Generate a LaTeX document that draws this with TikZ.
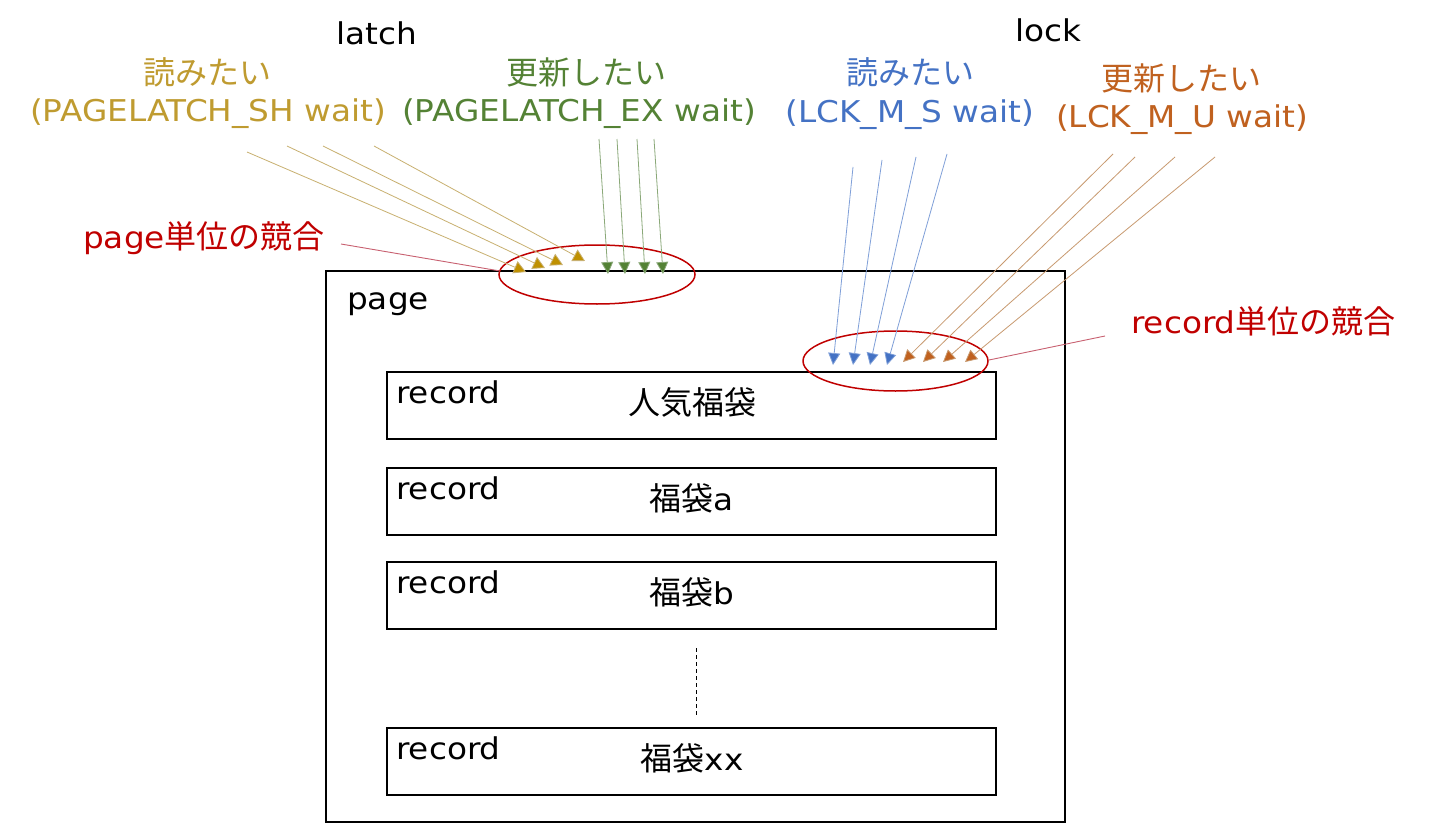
\documentclass[tikz,border=0pt]{standalone}
\usepackage{fontspec}
\setmainfont{Noto Sans CJK JP}
\newfontfamily\jp{Noto Sans CJK JP}
\newfontfamily\lat{DejaVu Sans}[FakeStretch=1.09]
\usetikzlibrary{arrows.meta,shapes.geometric}
\definecolor{cgold}{HTML}{BF9B30}
\definecolor{cgoldline}{HTML}{C8B070}
\definecolor{cgoldtip}{HTML}{BF9000}
\definecolor{cgreen}{HTML}{548235}
\definecolor{cgreenline}{HTML}{8AA878}
\definecolor{cblue}{HTML}{4472C4}
\definecolor{cblueline}{HTML}{7F9FD8}
\definecolor{corange}{HTML}{C0611F}
\definecolor{corangeline}{HTML}{C89A70}
\definecolor{cred}{HTML}{C00000}
\definecolor{credline}{HTML}{C86070}
\newcommand{\cj}{\jp\fontsize{32}{36}\selectfont}
\newcommand{\la}{\lat\fontsize{30}{36}\selectfont}
\begin{document}
\begin{tikzpicture}[x=1pt,y=-1pt,
  lbl/.style={inner sep=0pt, anchor=base},
  lblw/.style={inner sep=0pt, anchor=base west},
  rec/.style={draw=black, line width=1.8pt, minimum width=609pt, minimum height=67pt, inner sep=0pt},
  ring/.style={draw=cred, line width=1.5pt, ellipse, inner sep=0pt},
  arr/.style={line width=0.8pt},
  leader/.style={draw=credline, line width=0.9pt}]
\useasboundingbox (0,0) rectangle (1440,824);
\fill[white] (0,0) rectangle (1440,824);
% headings
\node[lbl] (latch) at (377,45) {\la latch};
\node[lbl] (lock) at (1048,42) {\la lock};
\node[lbl, text=cgold] (gr) at (207,85) {\cj 読みたい};
\node[lbl, text=cgold] (grp) at (208,122) {\la (PAGELATCH\_SH wait)};
\node[lbl, text=cgreen] (gu) at (586,85) {\cj 更新したい};
\node[lbl, text=cgreen] (gup) at (579,122) {\la (PAGELATCH\_EX wait)};
\node[lbl, text=cblue] (br) at (910,85) {\cj 読みたい};
\node[lbl, text=cblue] (brp) at (910,123) {\la (LCK\_M\_S wait)};
\node[lbl, text=corange] (ou) at (1181,91) {\cj 更新したい};
\node[lbl, text=corange] (oup) at (1182,128) {\la (LCK\_M\_U wait)};
\node[lblw, text=cred] (pc) at (83,248) {\la page\cj 単位の競合};
\node[lblw, text=cred] (rc) at (1131,333) {\la record\cj 単位の競合};
% page box
\node[draw=black, line width=1.8pt, minimum width=739pt, minimum height=551pt, inner sep=0pt] (page) at (695.5,546.5) {};
\node[lblw] (pagel) at (347,309) {\la page};
% records
\node[rec] (r1) at (691.5,405.5) {};
\node[rec] (r2) at (691.5,501.5) {};
\node[rec] (r3) at (691.5,595.5) {};
\node[rec] (r4) at (691.5,761.5) {};
\node[lblw] (r1l) at (396,403) {\la record};
\node[lblw] (r2l) at (396,499) {\la record};
\node[lblw] (r3l) at (396,593) {\la record};
\node[lblw] (r4l) at (396,759) {\la record};
\node[lbl] (r1t) at (692,414) {\cj 人気福袋};
\node[lbl] (r2t) at (692,510) {\cj 福袋\la a};
\node[lbl] (r3t) at (692,604) {\cj 福袋\la b};
\node[lbl] (r4t) at (692,770) {\cj 福袋\la xx};
\coordinate (dtop) at (696,648);
\coordinate (dbot) at (696,716);
\draw[line width=0.8pt, dash pattern=on 4pt off 3pt] (dtop) -- (dbot);
% ellipses
\node[ring, minimum width=196pt, minimum height=59pt] (e1) at (597,274.5) {};
\node[ring, minimum width=185pt, minimum height=60pt] (e2) at (895.5,361) {};
\coordinate (pcl) at (341,244);
\coordinate (pce) at (500,271);
\coordinate (rcl) at (1105,336);
\coordinate (rce) at (989,360);
\draw[leader] (pcl) -- (pce);
\draw[leader] (rcl) -- (rce);
% gold arrows
\foreach \i/\sx/\sy/\ex/\ey in {1/247/152/526/272, 2/287/146/545/268, 3/323/146/563/265, 4/374/146/585/261}{
  \coordinate (gs\i) at (\sx,\sy);
  \coordinate (ge\i) at (\ex,\ey);
  \draw[arr, draw=cgoldline, -{Triangle[length=12pt,width=13pt,fill=cgoldtip]}] (gs\i) -- (ge\i);
}
% green arrows
\foreach \i/\sx/\ex in {1/599/608, 2/617/625, 3/637/645, 4/654/663}{
  \coordinate (ns\i) at (\sx,139);
  \coordinate (ne\i) at (\ex,274);
  \draw[arr, draw=cgreenline, -{Triangle[length=12pt,width=12pt,fill=cgreen]}] (ns\i) -- (ne\i);
}
% blue arrows
\foreach \i/\sx/\sy/\ex in {1/853/167/833, 2/882/160/853, 3/916/157/870, 4/947/154/887}{
  \coordinate (bs\i) at (\sx,\sy);
  \coordinate (be\i) at (\ex,365);
  \draw[arr, draw=cblueline, -{Triangle[length=12pt,width=12pt,fill=cblue]}] (bs\i) -- (be\i);
}
% orange arrows
\foreach \i/\sx/\sy/\ex in {1/1113/154/903, 2/1135/157/923, 3/1175/157/943, 4/1215/157/965}{
  \coordinate (os\i) at (\sx,\sy);
  \coordinate (oe\i) at (\ex,362);
  \draw[arr, draw=corangeline, -{Triangle[length=12pt,width=12pt,fill=corange]}] (os\i) -- (oe\i);
}
\end{tikzpicture}
\end{document}
